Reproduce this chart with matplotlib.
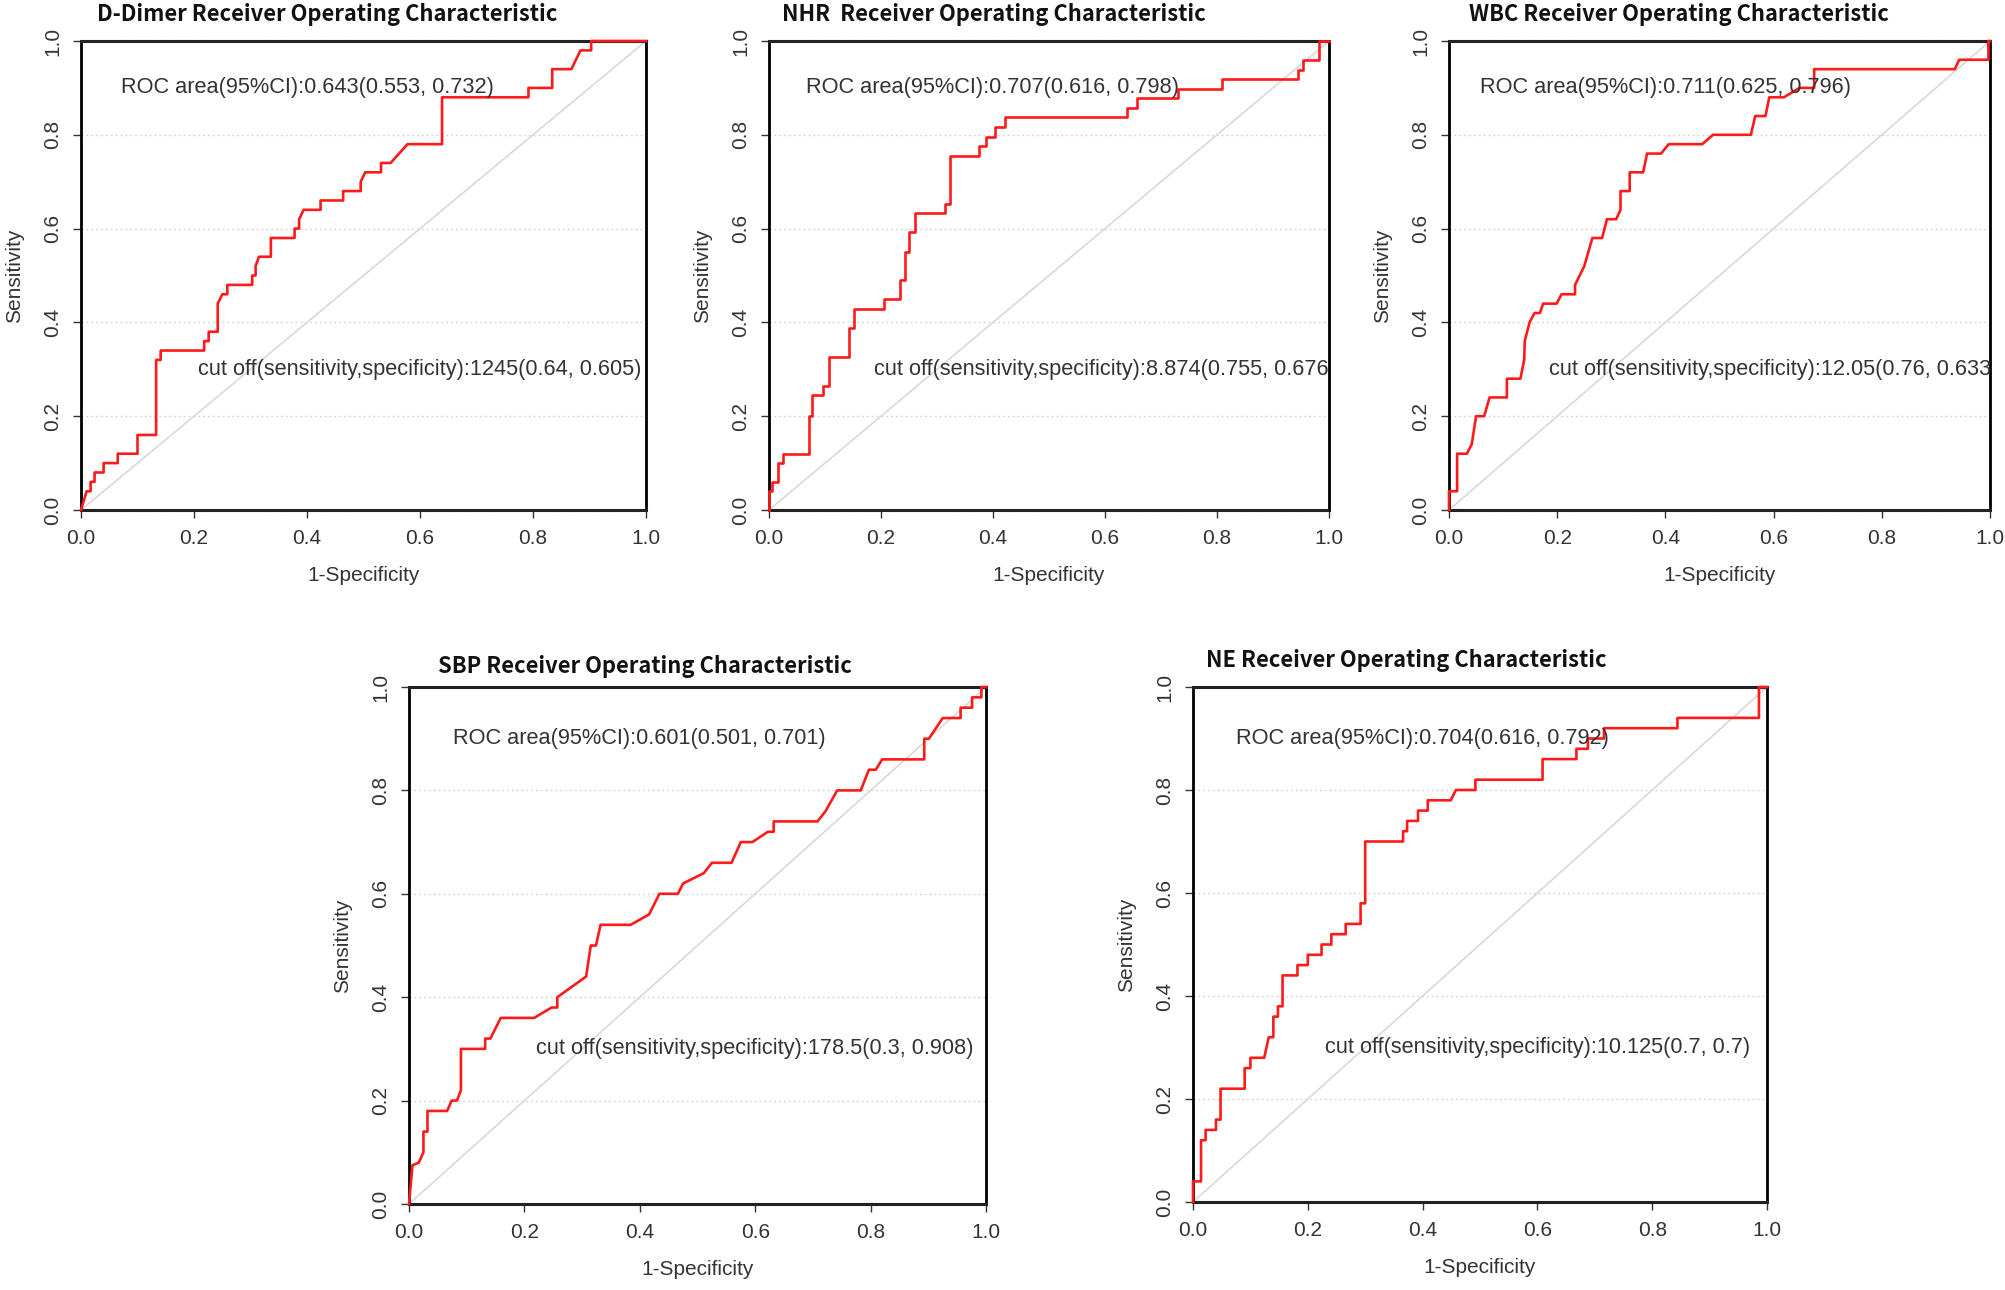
import matplotlib
matplotlib.use("Agg")
import matplotlib.pyplot as plt
import numpy as np

plt.rcParams['font.family'] = ['Liberation Sans', 'DejaVu Sans']

# ROC curve corner points: (1-specificity, sensitivity)
ddimer_fpr = [0, 0.01, 0.017, 0.017, 0.024, 0.024, 0.04, 0.04, 0.065, 0.065, 0.10, 0.10,
              0.133, 0.133, 0.141, 0.141, 0.218, 0.218, 0.226, 0.226, 0.242, 0.242, 0.25,
              0.259, 0.259, 0.303, 0.303, 0.309, 0.309, 0.315, 0.336, 0.336, 0.378, 0.378,
              0.386, 0.386, 0.394, 0.424, 0.424, 0.464, 0.464, 0.495, 0.495, 0.503, 0.531,
              0.531, 0.548, 0.578, 0.639, 0.639, 0.792, 0.792, 0.834, 0.834, 0.868, 0.884,
              0.903, 0.903, 1.0]
ddimer_tpr = [0, 0.04, 0.04, 0.06, 0.06, 0.08, 0.08, 0.10, 0.10, 0.12, 0.12, 0.16,
              0.16, 0.32, 0.32, 0.34, 0.34, 0.36, 0.36, 0.38, 0.38, 0.44, 0.46,
              0.46, 0.48, 0.48, 0.50, 0.50, 0.52, 0.54, 0.54, 0.58, 0.58, 0.60,
              0.60, 0.62, 0.64, 0.64, 0.66, 0.66, 0.68, 0.68, 0.70, 0.72, 0.72,
              0.74, 0.74, 0.78, 0.78, 0.88, 0.88, 0.90, 0.90, 0.94, 0.94, 0.98,
              0.98, 1.0, 1.0]

nhr_fpr = [0, 0, 0.006, 0.006, 0.016, 0.016, 0.025, 0.025, 0.071, 0.071, 0.077, 0.077,
           0.097, 0.097, 0.107, 0.107, 0.142, 0.142, 0.152, 0.152, 0.205, 0.205, 0.234,
           0.234, 0.242, 0.242, 0.25, 0.25, 0.26, 0.26, 0.315, 0.315, 0.324, 0.324, 0.375,
           0.375, 0.387, 0.387, 0.404, 0.404, 0.422, 0.422, 0.639, 0.639, 0.658, 0.658,
           0.731, 0.731, 0.809, 0.809, 0.944, 0.944, 0.954, 0.954, 0.983, 0.983, 1.0]
nhr_tpr = [0, 0.04, 0.04, 0.06, 0.06, 0.10, 0.10, 0.12, 0.12, 0.20, 0.20, 0.245,
           0.245, 0.265, 0.265, 0.327, 0.327, 0.388, 0.388, 0.429, 0.429, 0.449, 0.449,
           0.49, 0.49, 0.551, 0.551, 0.592, 0.592, 0.633, 0.633, 0.653, 0.653, 0.755, 0.755,
           0.776, 0.776, 0.796, 0.796, 0.816, 0.816, 0.837, 0.837, 0.857, 0.857, 0.878,
           0.878, 0.898, 0.898, 0.918, 0.918, 0.939, 0.939, 0.959, 0.959, 1.0, 1.0]

wbc_fpr = [0, 0, 0.015, 0.015, 0.033, 0.042, 0.05, 0.065, 0.075, 0.107, 0.107, 0.132,
           0.139, 0.14, 0.149, 0.158, 0.168, 0.174, 0.199, 0.208, 0.233, 0.233, 0.25,
           0.265, 0.283, 0.292, 0.309, 0.317, 0.317, 0.334, 0.334, 0.359, 0.366, 0.392,
           0.406, 0.468, 0.488, 0.558, 0.566, 0.585, 0.592, 0.619, 0.648, 0.675, 0.675,
           0.935, 0.943, 0.997, 0.997, 1.0]
wbc_tpr = [0, 0.04, 0.04, 0.12, 0.12, 0.14, 0.20, 0.20, 0.24, 0.24, 0.28, 0.28,
           0.32, 0.36, 0.40, 0.42, 0.42, 0.44, 0.44, 0.46, 0.46, 0.48, 0.52,
           0.58, 0.58, 0.62, 0.62, 0.64, 0.68, 0.68, 0.72, 0.72, 0.76, 0.76,
           0.78, 0.78, 0.80, 0.80, 0.84, 0.84, 0.88, 0.88, 0.90, 0.90, 0.94,
           0.94, 0.96, 0.96, 1.0, 1.0]

sbp_fpr = [0, 0.006, 0.017, 0.025, 0.025, 0.032, 0.032, 0.066, 0.074, 0.083, 0.09, 0.09,
           0.132, 0.132, 0.141, 0.159, 0.217, 0.247, 0.257, 0.257, 0.307, 0.315, 0.324,
           0.332, 0.384, 0.416, 0.434, 0.466, 0.475, 0.511, 0.525, 0.559, 0.575, 0.595,
           0.622, 0.632, 0.632, 0.708, 0.722, 0.742, 0.783, 0.797, 0.809, 0.82, 0.893,
           0.893, 0.901, 0.925, 0.956, 0.956, 0.976, 0.976, 0.992, 0.992, 1.0]
sbp_tpr = [0, 0.075, 0.08, 0.10, 0.14, 0.14, 0.18, 0.18, 0.20, 0.20, 0.22, 0.30,
           0.30, 0.32, 0.32, 0.36, 0.36, 0.38, 0.38, 0.40, 0.44, 0.50, 0.50,
           0.54, 0.54, 0.56, 0.60, 0.60, 0.62, 0.64, 0.66, 0.66, 0.70, 0.70,
           0.72, 0.72, 0.74, 0.74, 0.76, 0.80, 0.80, 0.84, 0.84, 0.86, 0.86,
           0.90, 0.90, 0.94, 0.94, 0.96, 0.96, 0.98, 0.98, 1.0, 1.0]

ne_fpr = [0, 0, 0.014, 0.014, 0.022, 0.022, 0.04, 0.04, 0.048, 0.048, 0.09, 0.09,
          0.10, 0.10, 0.124, 0.132, 0.14, 0.14, 0.148, 0.148, 0.156, 0.156, 0.182,
          0.182, 0.2, 0.2, 0.224, 0.224, 0.241, 0.241, 0.266, 0.266, 0.292, 0.292,
          0.30, 0.30, 0.366, 0.366, 0.373, 0.373, 0.392, 0.392, 0.409, 0.409, 0.449,
          0.458, 0.492, 0.492, 0.609, 0.609, 0.668, 0.668, 0.688, 0.688, 0.716, 0.716,
          0.844, 0.844, 0.986, 0.986, 1.0]
ne_tpr = [0, 0.04, 0.04, 0.12, 0.12, 0.14, 0.14, 0.16, 0.16, 0.22, 0.22, 0.26,
          0.26, 0.28, 0.28, 0.32, 0.32, 0.36, 0.36, 0.38, 0.38, 0.44, 0.44,
          0.46, 0.46, 0.48, 0.48, 0.50, 0.50, 0.52, 0.52, 0.54, 0.54, 0.58,
          0.58, 0.70, 0.70, 0.72, 0.72, 0.74, 0.74, 0.76, 0.76, 0.78, 0.78,
          0.80, 0.80, 0.82, 0.82, 0.86, 0.86, 0.88, 0.88, 0.90, 0.90, 0.92,
          0.92, 0.94, 0.94, 1.0, 1.0]

titles = ["D-Dimer Receiver Operating Characteristic",
          "NHR  Receiver Operating Characteristic",
          "WBC Receiver Operating Characteristic",
          "SBP Receiver Operating Characteristic",
          "NE Receiver Operating Characteristic"]
auc_texts = ["ROC area(95%CI):0.643(0.553, 0.732)",
             "ROC area(95%CI):0.707(0.616, 0.798)",
             "ROC area(95%CI):0.711(0.625, 0.796)",
             "ROC area(95%CI):0.601(0.501, 0.701)",
             "ROC area(95%CI):0.704(0.616, 0.792)"]
cut_texts = ["cut off(sensitivity,specificity):1245(0.64, 0.605)",
             "cut off(sensitivity,specificity):8.874(0.755, 0.676)",
             "cut off(sensitivity,specificity):12.05(0.76, 0.633)",
             "cut off(sensitivity,specificity):178.5(0.3, 0.908)",
             "cut off(sensitivity,specificity):10.125(0.7, 0.7)"]
curves = [(ddimer_fpr, ddimer_tpr), (nhr_fpr, nhr_tpr), (wbc_fpr, wbc_tpr),
          (sbp_fpr, sbp_tpr), (ne_fpr, ne_tpr)]
ticks = [0.0, 0.2, 0.4, 0.6, 0.8, 1.0]
tick_labels = ["0.0", "0.2", "0.4", "0.6", "0.8", "1.0"]

W, H = 2006, 1290
fig = plt.figure(figsize=(W / 100, H / 100), dpi=100)

# axes boxes in pixels: left, top, right, bottom
boxes = [(81, 41, 646, 510), (769, 41, 1329, 510), (1449, 41, 1990, 510),
         (409, 687, 986, 1204), (1193, 687, 1767, 1202)]
# title centres in pixels
title_pos = [(327, 14), (994, 14), (1679, 14), (645, 667), (1406, 661)]

text_col = '#333333'
title_font = ['Noto Sans CJK SC', 'Liberation Sans']

for i in range(5):
    l, t, r, b = boxes[i]
    ax = fig.add_axes([l / W, 1 - b / H, (r - l) / W, (b - t) / H])
    ax.set_xlim(0, 1)
    ax.set_ylim(0, 1)

    # light dotted grid
    for g in [0.2, 0.4, 0.6, 0.8]:
        ax.axhline(g, color='#d8d8d8', linestyle=(0, (1.5, 2)), linewidth=1.0, zorder=1)
    ax.plot([0, 1], [0, 1], color='#d9d9d9', linewidth=1.2, zorder=2)

    fpr, tpr = curves[i]
    ax.plot(fpr, tpr, color='#ff1a1a', linewidth=1.9, zorder=3, clip_on=False)

    ax.text(0.4, 0.9, auc_texts[i], ha='center', va='center', fontsize=15.7,
            color=text_col, clip_on=True)
    ax.text(0.6, 0.3, cut_texts[i], ha='center', va='center', fontsize=15.7,
            color=text_col, clip_on=True)

    for side in ['left', 'right']:
        ax.spines[side].set_linewidth(2.0)
        ax.spines[side].set_color('black')
    for side in ['top', 'bottom']:
        ax.spines[side].set_linewidth(2.2)
        ax.spines[side].set_color('#222222')
        ax.spines[side].set_linestyle((0, (0.7, 0.6)))

    ax.set_xticks(ticks)
    ax.set_xticklabels(tick_labels)
    ax.set_yticks(ticks)
    ax.set_yticklabels(tick_labels, rotation=90, va='center')
    ax.tick_params(direction='out', length=5.5, width=1.0, pad=8,
                   labelsize=15, labelcolor=text_col, color='#333333')

    ax.set_xlabel("1-Specificity", fontsize=15, color=text_col, labelpad=13)
    ax.set_ylabel("Sensitivity", fontsize=15, color=text_col, labelpad=14)

    tx, ty = title_pos[i]
    fig.text(tx / W, 1 - ty / H, titles[i], ha='center', va='center',
             fontsize=15.8, fontweight='bold', family=title_font, color='#111111')

fig.savefig("out.png", dpi=100)
